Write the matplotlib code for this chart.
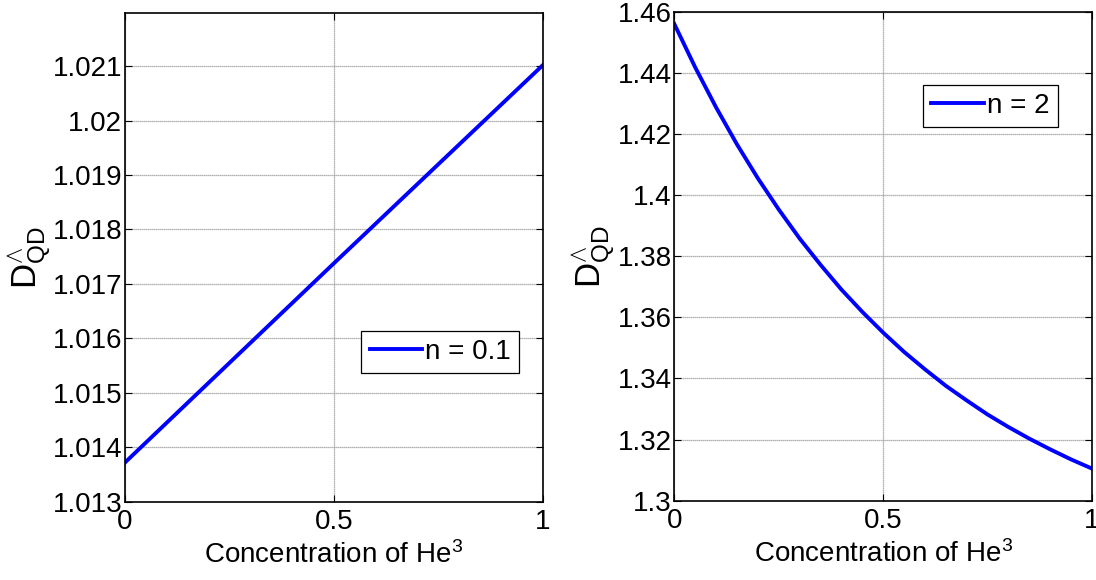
import numpy as np
import matplotlib
matplotlib.use("Agg")
import matplotlib.pyplot as plt
from matplotlib.ticker import FuncFormatter

plt.rcParams['font.family'] = ['Liberation Sans', 'DejaVu Sans']
plt.rcParams['mathtext.fontset'] = 'custom'
plt.rcParams['mathtext.rm'] = 'Liberation Sans'
plt.rcParams['mathtext.it'] = 'Liberation Sans'

# Data
x_left = [0.0, 0.25, 0.5, 0.75, 1.0]
y_left = [1.01372, 1.01555, 1.01738, 1.01920, 1.02102]

x_right = [0.0, 0.05, 0.10, 0.15, 0.20, 0.25, 0.30, 0.35, 0.40, 0.45, 0.50,
           0.55, 0.60, 0.65, 0.70, 0.75, 0.80, 0.85, 0.90, 0.95, 1.00]
y_right = [1.4560, 1.4418, 1.4287, 1.4166, 1.4055, 1.3953, 1.3858, 1.3772, 1.3691,
           1.3618, 1.3550, 1.3487, 1.3430, 1.3376, 1.3328, 1.3282, 1.3241, 1.3203,
           1.3168, 1.3135, 1.3105]

left_label = 'n = 0.1'
right_label = 'n = 2'
xticks = [0, 0.5, 1]
yticks_left = [1.013, 1.014, 1.015, 1.016, 1.017, 1.018, 1.019, 1.020, 1.021]
yticks_right = [1.30, 1.32, 1.34, 1.36, 1.38, 1.40, 1.42, 1.44, 1.46]

W, H = 1096, 580
fig = plt.figure(figsize=(W / 100, H / 100), dpi=100)

fs = 20
ylab = '$\\mathregular{D}^{\\wedge}_{\\mathregular{QD}}$'
fmt = FuncFormatter(lambda v, p: ('%g' % round(v, 6)))

def setup(ax, yticks, ylim):
    ax.set_xlim(0, 1)
    ax.set_ylim(*ylim)
    ax.set_xticks(xticks)
    ax.set_yticks(yticks)
    ax.xaxis.set_major_formatter(fmt)
    ax.yaxis.set_major_formatter(fmt)
    ax.tick_params(direction='in', top=True, right=True, length=5, width=0.8,
                   labelsize=fs, colors='black')
    ax.tick_params(axis='x', pad=5)
    ax.tick_params(axis='y', pad=2)
    ax.grid(True, color='#9a9a9a', linestyle=(0, (1, 0.6)), linewidth=0.9)
    for s in ax.spines.values():
        s.set_linewidth(1.2)
        s.set_color('black')
    ax.set_xlabel('Concentration of He$^{\\mathregular{3}}$', fontsize=fs, labelpad=5)
    ax.set_ylabel(ylab, fontsize=fs + 5, labelpad=0)

ax1 = fig.add_axes([125 / W, (H - 501.7) / H, 418 / W, 489 / H])
ax1.plot(x_left, y_left, color='#0000ff', linewidth=2.8, label=left_label)
setup(ax1, yticks_left, (1.013, 1.02198))
leg1 = ax1.legend(loc='upper left', bbox_to_anchor=(0.565, 0.350), fontsize=fs,
                  frameon=True, fancybox=False, edgecolor='black', framealpha=1,
                  handlelength=1.9, handletextpad=0.1, borderpad=0.3, borderaxespad=0)
leg1.get_frame().set_linewidth(0.9)

ax2 = fig.add_axes([674.3 / W, (H - 500.7) / H, 417.7 / W, 489 / H])
ax2.plot(x_right, y_right, color='#0000ff', linewidth=2.8, label=right_label)
setup(ax2, yticks_right, (1.30, 1.46))
leg2 = ax2.legend(loc='upper left', bbox_to_anchor=(0.595, 0.851), fontsize=fs,
                  frameon=True, fancybox=False, edgecolor='black', framealpha=1,
                  handlelength=1.9, handletextpad=0.1, borderpad=0.3, borderaxespad=0)
leg2.get_frame().set_linewidth(0.9)

fig.savefig('out.png', dpi=100)
